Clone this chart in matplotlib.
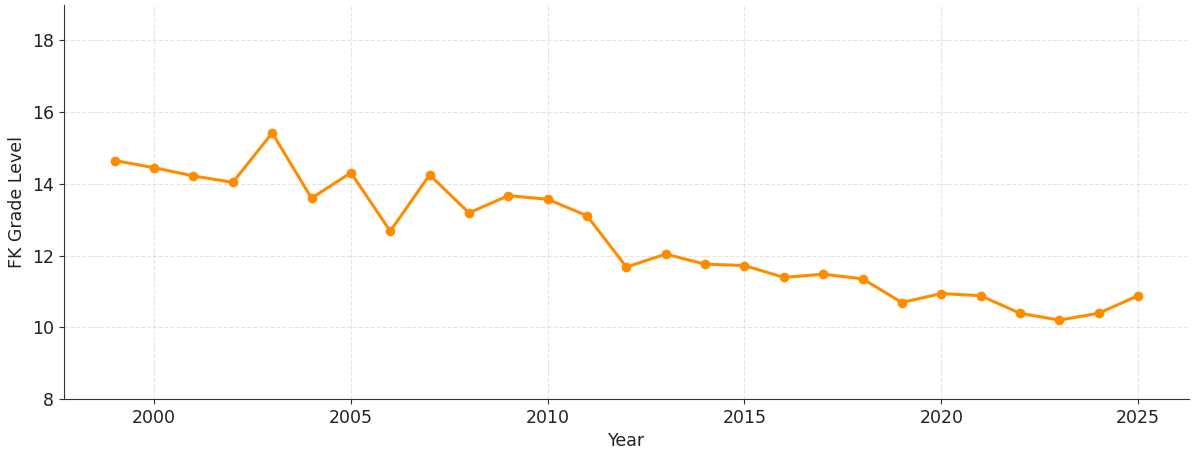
import matplotlib
matplotlib.use("Agg")
import matplotlib.pyplot as plt

years = list(range(1999, 2026))
fk_grade = [14.65, 14.45, 14.22, 14.04, 15.42, 13.60, 14.31, 12.68, 14.25, 13.19,
            13.67, 13.57, 13.11, 11.68, 12.04, 11.76, 11.72, 11.39, 11.48, 11.35,
            10.69, 10.94, 10.88, 10.39, 10.20, 10.39, 10.88]

fig, ax = plt.subplots(figsize=(12, 4.57), dpi=100)
ax.plot(years, fk_grade, color="#FF8C00", marker="o", markersize=6, linewidth=2.2)
ax.set_ylim(8, 19)
ax.set_xlabel("Year", fontsize=12.5, color="#222222")
ax.set_ylabel("FK Grade Level", fontsize=12.5, color="#222222")
ax.tick_params(labelsize=12.5, color="#333333", labelcolor="#222222")
ax.grid(True, linestyle="--", color="#cccccc", alpha=0.5, linewidth=0.8)
ax.spines["top"].set_visible(False)
ax.spines["right"].set_visible(False)
for s in ("left", "bottom"):
    ax.spines[s].set_color("#333333")
fig.subplots_adjust(left=0.053, right=0.991, top=0.99, bottom=0.127)
fig.savefig("out.png", dpi=100)
